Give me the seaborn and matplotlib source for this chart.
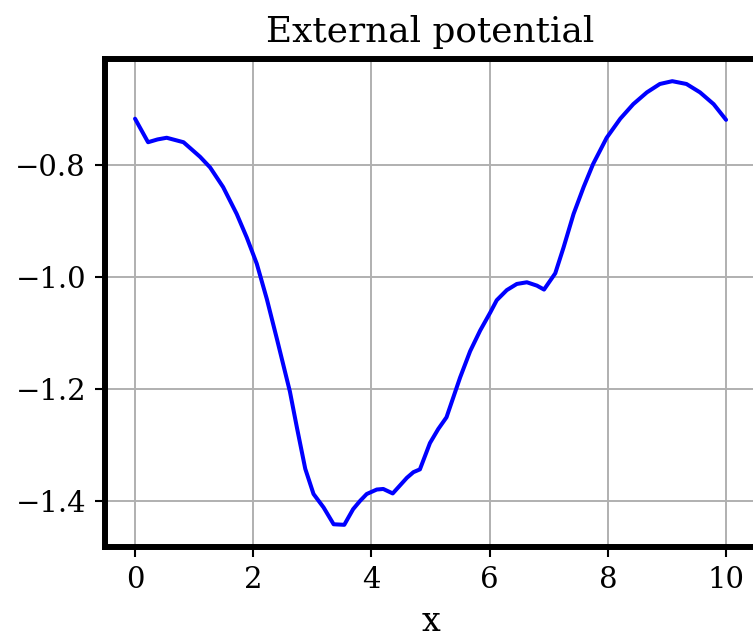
import matplotlib
matplotlib.use("Agg")
import matplotlib.pyplot as plt
import seaborn as sns

x_vals = [0.0, 0.22, 0.38, 0.535, 0.82, 1.10, 1.27, 1.49, 1.72, 1.89, 2.06, 2.23,
          2.40, 2.62, 2.74, 2.88, 3.02, 3.19, 3.36, 3.54, 3.69, 3.81, 3.92, 4.09,
          4.20, 4.36, 4.48, 4.60, 4.71, 4.82, 4.99, 5.13, 5.27, 5.39, 5.50, 5.67,
          5.84, 6.01, 6.12, 6.29, 6.46, 6.63, 6.80, 6.92, 7.11, 7.25, 7.42, 7.59,
          7.75, 7.98, 8.21, 8.43, 8.66, 8.88, 9.09, 9.33, 9.56, 9.79, 10.0]
potential = [-0.718, -0.760, -0.755, -0.752, -0.760, -0.786, -0.805, -0.840, -0.888,
             -0.930, -0.977, -1.040, -1.111, -1.205, -1.270, -1.343, -1.388, -1.412,
             -1.442, -1.443, -1.415, -1.400, -1.388, -1.380, -1.379, -1.387, -1.373,
             -1.359, -1.349, -1.344, -1.297, -1.272, -1.251, -1.214, -1.180, -1.133,
             -1.096, -1.064, -1.042, -1.024, -1.013, -1.010, -1.016, -1.023, -0.994,
             -0.948, -0.888, -0.840, -0.799, -0.752, -0.718, -0.692, -0.671, -0.656,
             -0.651, -0.656, -0.671, -0.692, -0.720]
title = "External potential"
xlabel = "x"

sns.set_style("whitegrid")
plt.rcParams['font.family'] = ['DejaVu Serif']
plt.rcParams['axes.unicode_minus'] = True
plt.rcParams['text.color'] = 'black'
plt.rcParams['axes.labelcolor'] = 'black'
plt.rcParams['xtick.color'] = 'black'
plt.rcParams['ytick.color'] = 'black'

W, H = 753, 637
fig = plt.figure(figsize=(W / 100, H / 100), dpi=100)
left_px, right_px, top_px, bot_px = 105.5, 755.6, 59.0, 547.0
ax = fig.add_axes([left_px / W, (H - bot_px) / H, (right_px - left_px) / W, (bot_px - top_px) / H])

sns.lineplot(x=x_vals, y=potential, ax=ax, color="blue", linewidth=2.9)

ax.set_xlim(-0.5, 10.5)
ax.set_xticks([0, 2, 4, 6, 8, 10])
ax.set_yticks([-1.4, -1.2, -1.0, -0.8])
ax.set_ylim(-1.4826, -0.6114)

ax.grid(True, color="#b0b0b0", linewidth=1.4)
for s in ax.spines.values():
    s.set_visible(True)
    s.set_color("black")
    s.set_linewidth(4.3)
ax.tick_params(axis="both", which="major", labelsize=21, length=7, width=1.5,
               color="black", labelcolor="black", pad=7, bottom=True, left=True)
ax.set_title(title, fontsize=25.8, pad=12, color="black")
ax.set_xlabel(xlabel, fontsize=24, labelpad=8, color="black")
ax.set_facecolor("white")

fig.savefig("out.png", dpi=100, facecolor="white")
